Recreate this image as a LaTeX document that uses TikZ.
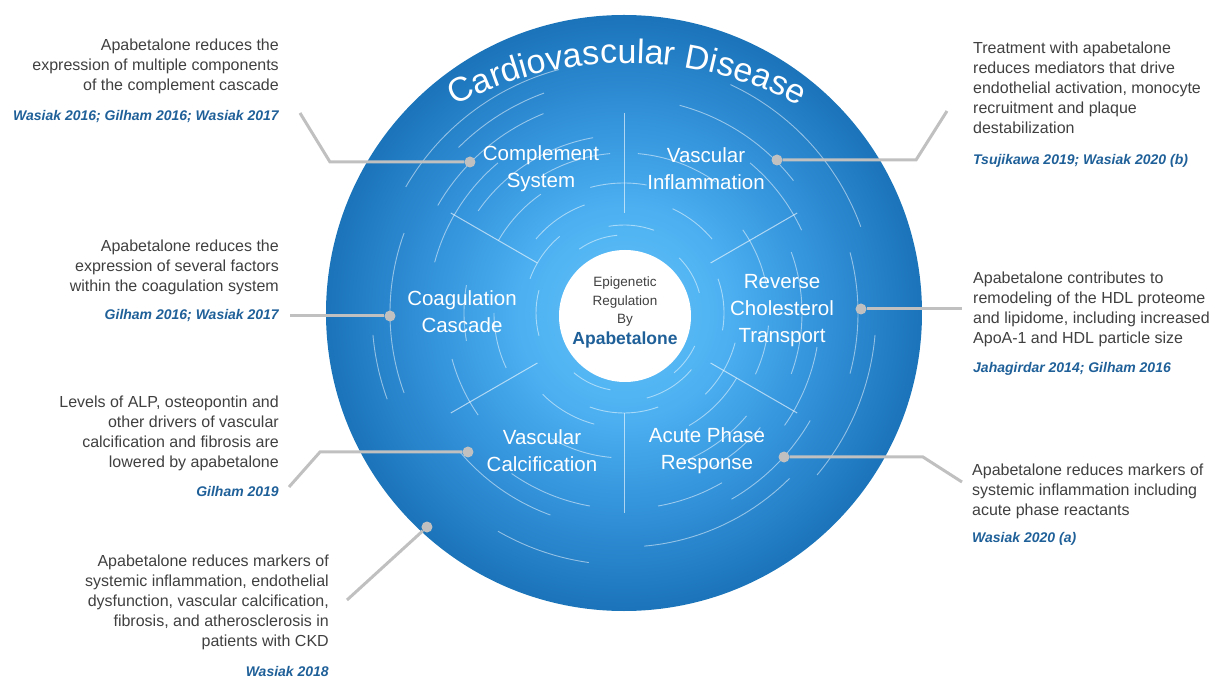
\documentclass[tikz,border=0pt]{standalone}
\usepackage{fontspec}
\setmainfont{Liberation Sans}
\usetikzlibrary{decorations.text}

\definecolor{notegray}{RGB}{64,64,64}
\definecolor{citeblue}{RGB}{31,96,153}
\definecolor{leadgray}{RGB}{192,192,192}
\definecolor{glowA}{RGB}{92,190,247}
\definecolor{glowB}{RGB}{76,176,241}
\definecolor{glowC}{RGB}{52,148,220}
\definecolor{glowD}{RGB}{33,123,194}
\definecolor{glowE}{RGB}{18,104,170}
\definecolor{glowF}{RGB}{14,99,162}
\pgfdeclareradialshading{discglow}{\pgfpointorigin}{color(0bp)=(glowA); color(3bp)=(glowA); color(8.8bp)=(glowB); color(16bp)=(glowC); color(23bp)=(glowD); color(28.3bp)=(glowE); color(35.4bp)=(glowF); color(50bp)=(glowF)}

\begin{document}
\begin{tikzpicture}[x=1pt,y=1pt,
  noteL/.style={anchor=north east,align=right,inner sep=0pt,text=notegray,font=\fontsize{16}{20}\selectfont},
  noteR/.style={noteL,anchor=north west,align=left},
  citeL/.style={anchor=north east,inner sep=0pt,text=citeblue,font=\fontsize{14}{16}\selectfont\bfseries\itshape},
  citeR/.style={citeL,anchor=north west},
  seclabel/.style={align=center,inner sep=0pt,text=white,font=\fontsize{20.5}{27}\selectfont},
  leader/.style={draw=leadgray,line width=3pt},
  leaddot/.style={circle,fill=leadgray,minimum size=11pt,inner sep=0pt},
  ringarc/.style={white,opacity=.5,line width=.9pt},
  spoke/.style={white,opacity=.6,line width=1pt}]
\useasboundingbox (-624,-366) rectangle (588,313);

% disc with rings
\shade[shading=discglow] (0,0) circle[radius=298];
\foreach \rad/\a/\b in {252/105/150, 252/20/65, 252/-40/-5, 252/185/200, 252/240/262,
    234/160/200, 234/-15/15, 234/275/315, 234/110/135,
    215/112/150, 215/38/75, 215/-60/-30, 215/220/250,
    196/130/165, 196/25/50, 196/-35/-10, 196/235/260, 196/280/300,
    178/100/145, 178/-20/20, 178/195/215, 178/300/320,
    160/95/120, 160/55/85, 160/170/190, 160/-70/-40,
    145/125/150, 145/10/35, 145/240/265, 145/-25/-5,
    130/80/105, 130/180/205, 130/300/330,
    115/110/140, 115/40/65, 115/-45/-15, 115/225/255,
    100/130/160, 100/-10/20, 100/250/290,
    88/70/100, 88/165/195, 88/-75/-40,
    78/95/125, 78/15/45, 78/230/260, 78/310/335}
  \draw[ringarc] (\a:\rad) arc[start angle=\a,end angle=\b,radius=\rad];
\foreach \a in {30,90,...,330}
  \draw[spoke] (\a:100) -- (\a:200);

% hub
\node[circle,fill=white,minimum size=132pt,inner sep=0pt] (hub) at (1,-3) {};
\node[anchor=north,align=center,inner sep=0pt,text=notegray,font=\fontsize{13.5}{18.5}\selectfont] (hubtxt) at (1,36) {Epigenetic\\Regulation\\By};
\node[inner sep=0pt,text=citeblue,font=\fontsize{17.5}{20}\selectfont\bfseries] (hubname) at (1,-27) {Apabetalone};

% title along the rim
\path[shift={(3,-118)},decorate,decoration={text along path,text align=center,text color=white,
    text={|\fontsize{34}{34}\selectfont|Cardiovascular Disease}}]
  (124:368) arc[start angle=124,end angle=56,radius=368];

% sectors
\node[seclabel] (comp) at (-83,144) {Complement\\System};
\node[seclabel] (vinf) at (82,144) {Vascular\\Inflammation};
\node[seclabel] (coag) at (-162,1) {Coagulation\\Cascade};
\node[seclabel] (rct) at (158,2) {Reverse\\Cholesterol\\Transport};
\node[seclabel] (vcal) at (-82,-138) {Vascular\\Calcification};
\node[seclabel] (apr) at (83,-138) {Acute Phase\\Response};

% Complement system
\node[noteL] (n1) at (-345,274.5) {Apabetalone reduces the\\expression of multiple components\\of the complement cascade};
\node[citeL] (c1) at (-345,203) {Wasiak 2016; Gilham 2016; Wasiak 2017};
\node[leaddot] (d1) at (-154,151) {};
\coordinate (k1) at (-294,151);
\coordinate (e1) at (-324,200);
\draw[leader] (d1) -- (k1) -- (e1);

% Coagulation cascade
\node[noteL] (n2) at (-345,73.5) {Apabetalone reduces the\\expression of several factors\\within the coagulation system};
\node[citeL] (c2) at (-345,4) {Gilham 2016; Wasiak 2017};
\node[leaddot] (d2) at (-234,-3) {};
\coordinate (e2) at (-334,-3);
\draw[leader] (d2) -- (e2);

% Vascular calcification
\node[noteL] (n3) at (-345,-82.5) {Levels of ALP, osteopontin and\\other drivers of vascular\\calcification and fibrosis are\\lowered by apabetalone};
\node[citeL] (c3) at (-345,-173) {Gilham 2019};
\node[leaddot] (d3) at (-156,-139) {};
\coordinate (k3) at (-304,-139);
\coordinate (e3) at (-335,-174);
\draw[leader] (d3) -- (k3) -- (e3);

% CKD
\node[noteL] (n4) at (-295,-241.5) {Apabetalone reduces markers of\\systemic inflammation, endothelial\\dysfunction, vascular calcification,\\fibrosis, and atherosclerosis in\\patients with CKD};
\node[citeL] (c4) at (-295,-353) {Wasiak 2018};
\node[leaddot] (d4) at (-197,-214) {};
\coordinate (e4) at (-277,-287);
\draw[leader] (d4) -- (e4);

% Vascular inflammation
\node[noteR] (n5) at (349,271.5) {Treatment with apabetalone\\reduces mediators that drive\\endothelial activation, monocyte\\recruitment and plaque\\destabilization};
\node[citeR] (c5) at (349,159) {Tsujikawa 2019; Wasiak 2020 (b)};
\node[leaddot] (d5) at (153,153) {};
\coordinate (k5) at (292,153);
\coordinate (e5) at (323,202);
\draw[leader] (d5) -- (k5) -- (e5);

% Reverse cholesterol transport
\node[noteR] (n6) at (349,41.5) {Apabetalone contributes to\\remodeling of the HDL proteome\\and lipidome, including increased\\ApoA-1 and HDL particle size};
\node[citeR] (c6) at (349,-49) {Jahagirdar 2014; Gilham 2016};
\node[leaddot] (d6) at (237,4) {};
\coordinate (e6) at (338,4);
\draw[leader] (d6) -- (e6);

% Acute phase response
\node[noteR] (n7) at (348,-150.5) {Apabetalone reduces markers of\\systemic inflammation including\\acute phase reactants};
\node[citeR] (c7) at (348,-219) {Wasiak 2020 (a)};
\node[leaddot] (d7) at (160,-144) {};
\coordinate (k7) at (299,-144);
\coordinate (e7) at (338,-169);
\draw[leader] (d7) -- (k7) -- (e7);
\end{tikzpicture}
\end{document}
